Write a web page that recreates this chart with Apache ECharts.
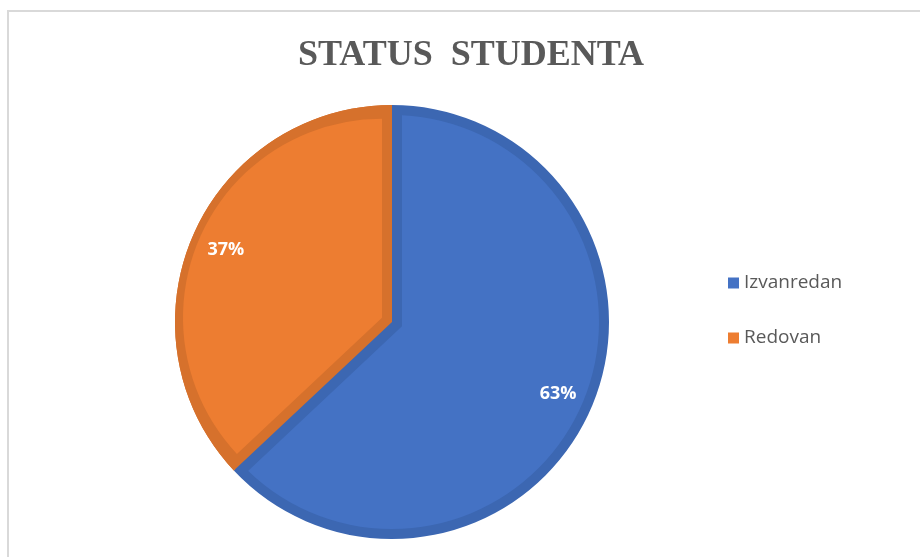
<!DOCTYPE html>
<html>
<head>
<meta charset="utf-8">
<script src="https://cdn.jsdelivr.net/npm/echarts@6/dist/echarts.min.js"></script>
<style>
  html, body { margin: 0; padding: 0; background: #fff; }
  #chart { width: 920px; height: 557px; }
</style>
</head>
<body>
<div id="chart"></div>
<script>
const categories = ['Izvanredan', 'Redovan'];
const shares = [63, 37];
const lightColors = ['#4472C4', '#ED7D31'];
const darkColors = ['#3C67B2', '#D6712C'];

const CX = 392, CY = 322, R = 217, RIM = 10;
const NONE = 'rgba(0,0,0,0)';

// the rim is drawn as layered pies; the orange wedge is shifted along its
// bisector so both straight edges get an even inset
const total = shares[0] + shares[1];
const span = shares[1] / total * Math.PI * 2;
const mid = Math.PI / 2 + span / 2;
const shift = RIM / Math.sin(span / 2);
const dx = Math.cos(mid) * shift, dy = -Math.sin(mid) * shift;

const layer = (center, radius, colors, z) => ({
  type: 'pie',
  center: center,
  radius: [0, radius],
  startAngle: 90,
  clockwise: true,
  z: z,
  silent: true,
  label: { show: false },
  labelLine: { show: false },
  data: categories.map((name, i) => ({
    name: name,
    value: shares[i],
    itemStyle: { color: colors[i] }
  }))
});

const myChart = echarts.init(document.getElementById('chart'));
myChart.setOption({
  animation: false,
  title: {
    text: 'STATUS  STUDENTA',
    left: 471,
    top: 38,
    padding: 0,
    textAlign: 'center',
    textStyle: {
      fontFamily: 'Liberation Serif',
      fontWeight: 'bold',
      fontSize: 36,
      color: '#595959'
    }
  },
  legend: {
    orient: 'vertical',
    left: 723,
    top: 268,
    itemWidth: 11,
    itemHeight: 11,
    itemGap: 35,
    icon: 'rect',
    data: categories.map((name, i) => ({ name: name, itemStyle: { color: lightColors[i] } })),
    textStyle: {
      fontFamily: 'Open Sans',
      fontSize: 19,
      lineHeight: 20,
      color: '#595959'
    }
  },
  graphic: [{
    type: 'rect',
    shape: { x: 8, y: 11, width: 1000, height: 1000 },
    style: { fill: 'none', stroke: '#D9D9D9', lineWidth: 2 },
    silent: true,
    z: -10
  }],
  series: [
    layer([CX, CY], R, darkColors, 1),
    layer([CX, CY], R - RIM, [lightColors[0], NONE], 2),
    layer([CX - dx, CY - dy], R + 3, [NONE, darkColors[0]], 3),
    layer([CX, CY], R, [NONE, darkColors[1]], 4),
    layer([CX + dx, CY + dy], R - RIM - 8, [NONE, lightColors[1]], 5),
    {
      // percentage labels
      type: 'pie',
      center: [CX, CY],
      radius: [139, R],
      startAngle: 90,
      clockwise: true,
      z: 6,
      silent: true,
      itemStyle: { color: NONE },
      label: {
        show: true,
        position: 'inside',
        formatter: '{d}%',
        fontFamily: 'Open Sans',
        fontWeight: 'bold',
        fontSize: 18,
        color: '#fff'
      },
      labelLine: { show: false },
      data: categories.map((name, i) => ({ name: name, value: shares[i] }))
    }
  ]
});
</script>
</body>
</html>
